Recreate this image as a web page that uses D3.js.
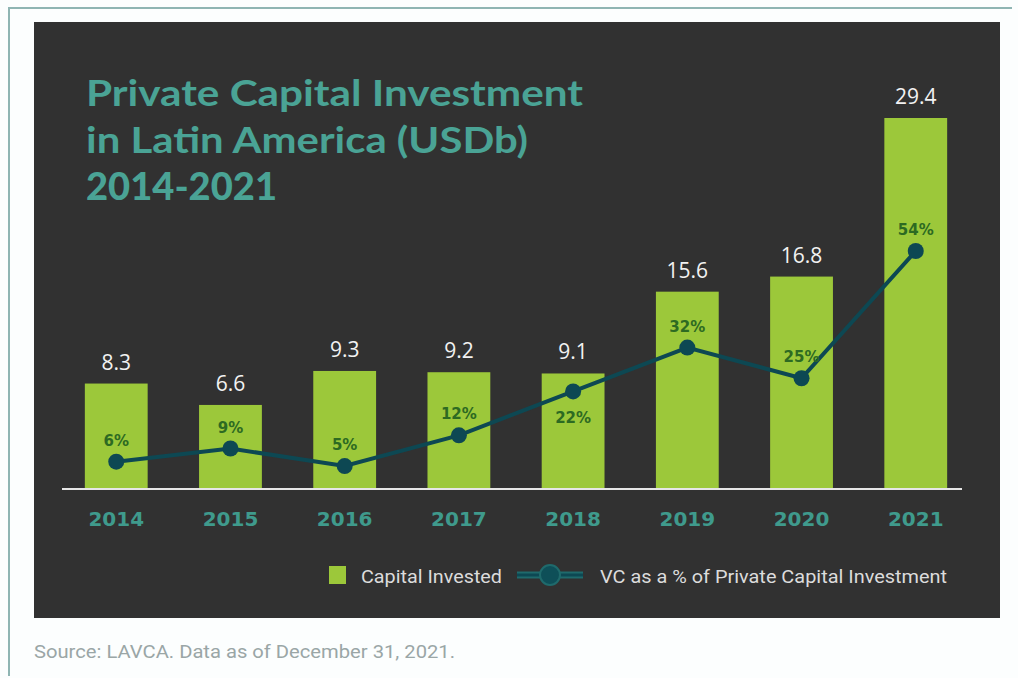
<!DOCTYPE html>
<html>
<head>
<meta charset="utf-8">
<script src="https://cdn.jsdelivr.net/npm/d3@7"></script>
<style>
  html, body { margin: 0; padding: 0; background: #fcfefe; }
  svg { display: block; }
</style>
</head>
<body>
<svg id="chart" width="1018" height="678"></svg>
<script>
// Private capital invested in Latin America (USD billions) and VC share (%)
const years = ["2014", "2015", "2016", "2017", "2018", "2019", "2020", "2021"];
const capitalInvested = [8.3, 6.6, 9.3, 9.2, 9.1, 15.6, 16.8, 29.4];
const vcShare = [6, 9, 5, 12, 22, 32, 25, 54];
// labels below the point instead of above
const labelBelow = [false, false, false, false, true, false, false, false];

const titleLines = ["Private Capital Investment", "in Latin America (USDb)", "2014-2021"];
const titleWidths = [497, 442, 191];
const legendLabels = ["Capital Invested", "VC as a % of Private Capital Investment"];
const legendWidths = [141, 347];
const sourceText = "Source: LAVCA. Data as of December 31, 2021.";

const svg = d3.select("#chart");

// page frame
svg.append("path")
  .attr("d", "M9,676 L9,8 L1012,8")
  .attr("fill", "none")
  .attr("stroke", "#8fb5b3")
  .attr("stroke-width", 2);

// dark panel
svg.append("rect")
  .attr("x", 34).attr("y", 22)
  .attr("width", 966).attr("height", 596)
  .attr("fill", "#313131");

const baseY = 488;
const x = d3.scaleBand().domain(years).range([62, 970]).paddingInner(0.45).paddingOuter(0.2);
const yBar = d3.scaleLinear().domain([0, 29.4]).range([baseY, 118]);
const yPct = d3.scaleLinear().domain([0, 54]).range([baseY, 251]);

const green = "#9cc83a";
const lineCol = "#0d4853";

// title
svg.append("g").selectAll("text").data(titleLines).join("text")
  .attr("x", 86)
  .attr("y", (d, i) => 106 + i * 47)
  .attr("fill", "#4aa395")
  .attr("font-family", "Lato, 'Open Sans', sans-serif")
  .attr("font-weight", (d, i) => i === 2 ? 900 : 700)
  .attr("font-size", 37)
  .attr("textLength", (d, i) => titleWidths[i])
  .attr("lengthAdjust", "spacingAndGlyphs")
  .text(d => d);

// bars
svg.append("g").selectAll("rect").data(capitalInvested).join("rect")
  .attr("x", (d, i) => x(years[i]))
  .attr("y", d => yBar(d))
  .attr("width", x.bandwidth())
  .attr("height", d => baseY - yBar(d))
  .attr("fill", green);

// bar value labels
svg.append("g").selectAll("text").data(capitalInvested).join("text")
  .attr("x", (d, i) => x(years[i]) + x.bandwidth() / 2)
  .attr("y", d => yBar(d) - 14)
  .attr("text-anchor", "middle")
  .attr("fill", "#f2f2f2")
  .attr("font-family", "'Open Sans', sans-serif")
  .attr("font-size", 21)
  .text(d => d.toFixed(1));

// baseline
svg.append("line")
  .attr("x1", 62).attr("x2", 962)
  .attr("y1", baseY + 1).attr("y2", baseY + 1)
  .attr("stroke", "#e6e6e6").attr("stroke-width", 2);

// year labels
const xAxis = d3.axisBottom(x).tickSize(0).tickPadding(0);
const axisG = svg.append("g").attr("transform", `translate(0,${baseY})`).call(xAxis);
axisG.select(".domain").remove();
axisG.selectAll("text")
  .attr("dy", 0)
  .attr("y", 38)
  .attr("fill", "#3f9a8c")
  .attr("font-family", "'DejaVu Sans', sans-serif")
  .attr("font-weight", 700)
  .attr("font-size", 20);

// VC share line
const cx = i => x(years[i]) + x.bandwidth() / 2;
const line = d3.line().x((d, i) => cx(i)).y(d => yPct(d));
svg.append("path")
  .datum(vcShare)
  .attr("d", line)
  .attr("fill", "none")
  .attr("stroke", lineCol)
  .attr("stroke-width", 4);

svg.append("g").selectAll("circle").data(vcShare).join("circle")
  .attr("cx", (d, i) => cx(i))
  .attr("cy", d => yPct(d))
  .attr("r", 8)
  .attr("fill", lineCol);

svg.append("g").selectAll("text").data(vcShare).join("text")
  .attr("x", (d, i) => cx(i))
  .attr("y", (d, i) => labelBelow[i] ? yPct(d) + 32 : yPct(d) - 16)
  .attr("text-anchor", "middle")
  .attr("fill", "#2d6a22")
  .attr("font-family", "'DejaVu Sans', sans-serif")
  .attr("font-weight", 700)
  .attr("font-size", 15)
  .text(d => d + "%");

// legend
const legend = svg.append("g");
legend.append("rect")
  .attr("x", 329).attr("y", 566).attr("width", 17).attr("height", 18)
  .attr("fill", green);
legend.append("text")
  .attr("x", 361).attr("y", 583)
  .attr("fill", "#dcdcdc")
  .attr("font-family", "Roboto, sans-serif")
  .attr("font-size", 19)
  .attr("textLength", legendWidths[0])
  .attr("lengthAdjust", "spacingAndGlyphs")
  .text(legendLabels[0]);
legend.append("line")
  .attr("x1", 517).attr("x2", 583).attr("y1", 575).attr("y2", 575)
  .attr("stroke", "#1f6a6c").attr("stroke-width", 7);
legend.append("line")
  .attr("x1", 517).attr("x2", 583).attr("y1", 575).attr("y2", 575)
  .attr("stroke", lineCol).attr("stroke-width", 3);
legend.append("circle")
  .attr("cx", 550).attr("cy", 575).attr("r", 10)
  .attr("fill", "#0e4f58").attr("stroke", "#1f6a6c").attr("stroke-width", 2);
legend.append("text")
  .attr("x", 600).attr("y", 583)
  .attr("fill", "#dcdcdc")
  .attr("font-family", "Roboto, sans-serif")
  .attr("font-size", 19)
  .attr("textLength", legendWidths[1])
  .attr("lengthAdjust", "spacingAndGlyphs")
  .text(legendLabels[1]);

// source note
svg.append("text")
  .attr("x", 34).attr("y", 658)
  .attr("fill", "#9aa6a6")
  .attr("font-family", "Roboto, sans-serif")
  .attr("font-size", 18)
  .attr("textLength", 421)
  .attr("lengthAdjust", "spacingAndGlyphs")
  .text(sourceText);
</script>
</body>
</html>
